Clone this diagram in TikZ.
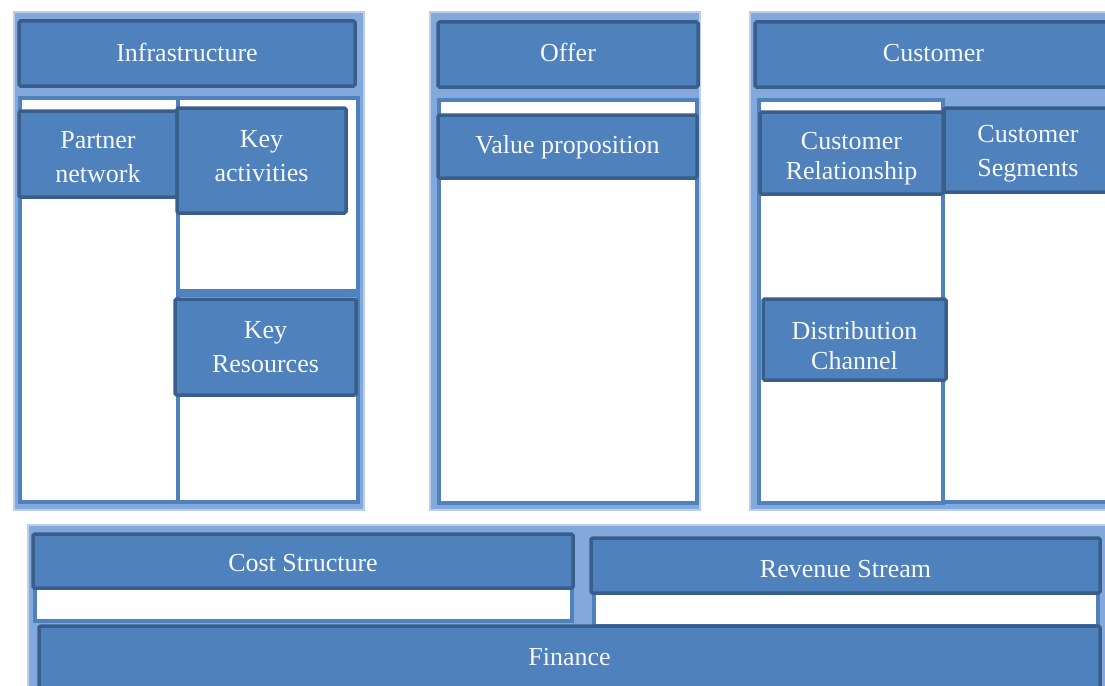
\documentclass[tikz,border=0pt]{standalone}
\usepackage{fontspec}
\setmainfont{Liberation Serif}
\definecolor{boxblue}{HTML}{4F81BD}
\definecolor{boxedge}{HTML}{395E8C}
\definecolor{panelfill}{HTML}{82A8DC}
\definecolor{paneledge}{HTML}{BACFEA}
\definecolor{labelwhite}{HTML}{F6F8FC}
\tikzset{
  panel/.style={fill=panelfill, draw=paneledge, line width=1.5pt},
  cell/.style={fill=white, draw=boxblue, line width=4pt},
  blockbox/.style={fill=boxblue, draw=boxedge, line width=3.5pt, rounded corners=1.5pt,
    inner sep=0pt, anchor=center},
  caption/.style={inner sep=0pt, text=labelwhite, align=center,
    font=\fontsize{26}{34}\selectfont},
  tightcaption/.style={caption, font=\fontsize{26}{30}\selectfont},
}
\begin{document}
\begin{tikzpicture}[x=1pt,y=-1pt]
\useasboundingbox (0,0) rectangle (1105,685);
\fill[white] (0,0) rectangle (1105,685);

% outer panels
\draw[panel] (14,12) rectangle (364,510);
\draw[panel] (430,12) rectangle (700,510);
\draw[panel] (750,12) rectangle (1110,510);
\draw[panel] (28,525) rectangle (1110,690);

% white cells of the infrastructure panel
\draw[cell] (20,98) rectangle (178,502);
\draw[cell] (178,98) rectangle (358,291);
\draw[cell] (178,295) rectangle (358,502);
% white cell of the offer panel
\draw[cell] (439,100) rectangle (697,503);
% white cells of the customer panel
\draw[cell] (759,100) rectangle (943,503);
\draw[cell] (943,190) rectangle (1112,502);
% white strips of the finance panel
\draw[cell] (35,585) rectangle (572,621);
\draw[cell] (594,590) rectangle (1098,626);

% infrastructure
\node[blockbox, minimum width=336pt, minimum height=65pt,
  label={[caption, yshift=1pt]center:Infrastructure}] (infra) at (187,53.5) {};
\node[blockbox, minimum width=158pt, minimum height=86pt,
  label={[caption, yshift=-3pt]center:Partner\\network}] (partner) at (98,154) {};
\node[blockbox, minimum width=169pt, minimum height=105pt,
  label={[caption, yshift=4pt]center:Key\\activities}] (activities) at (261.5,160.5) {};
\node[blockbox, minimum width=181pt, minimum height=96pt,
  label={[caption]center:Key\\Resources}] (resources) at (265.5,347) {};

% offer
\node[blockbox, minimum width=260pt, minimum height=65pt,
  label={[caption, yshift=2pt]center:Offer}] (offer) at (568,54.5) {};
\node[blockbox, minimum width=259pt, minimum height=63pt,
  label={[caption, yshift=-1pt]center:Value proposition}] (value) at (567.5,146.5) {};

% customer
\node[blockbox, minimum width=357pt, minimum height=65pt,
  label={[caption, yshift=1pt]center:Customer}] (customer) at (933.5,54.5) {};
\node[blockbox, minimum width=183pt, minimum height=82pt,
  label={[tightcaption, yshift=-6pt]center:Customer\\Relationship}] (relation) at (851.5,153) {};
\node[blockbox, minimum width=168pt, minimum height=84pt,
  label={[caption, yshift=-4pt]center:Customer\\Segments}] (segments) at (1028,150) {};
\node[blockbox, minimum width=183pt, minimum height=81pt,
  label={[tightcaption, yshift=-6pt]center:Distribution\\Channel}] (channel) at (854.5,339.5) {};

% finance
\node[blockbox, minimum width=540pt, minimum height=54pt,
  label={[caption, yshift=-2pt]center:Cost Structure}] (cost) at (303,561) {};
\node[blockbox, minimum width=509pt, minimum height=55pt,
  label={[caption, yshift=-4pt]center:Revenue Stream}] (revenue) at (845.5,565.5) {};
\node[blockbox, minimum width=1061pt, minimum height=64pt,
  label={[caption, yshift=1pt]center:Finance}] (finance) at (569.5,658) {};
\end{tikzpicture}
\end{document}
